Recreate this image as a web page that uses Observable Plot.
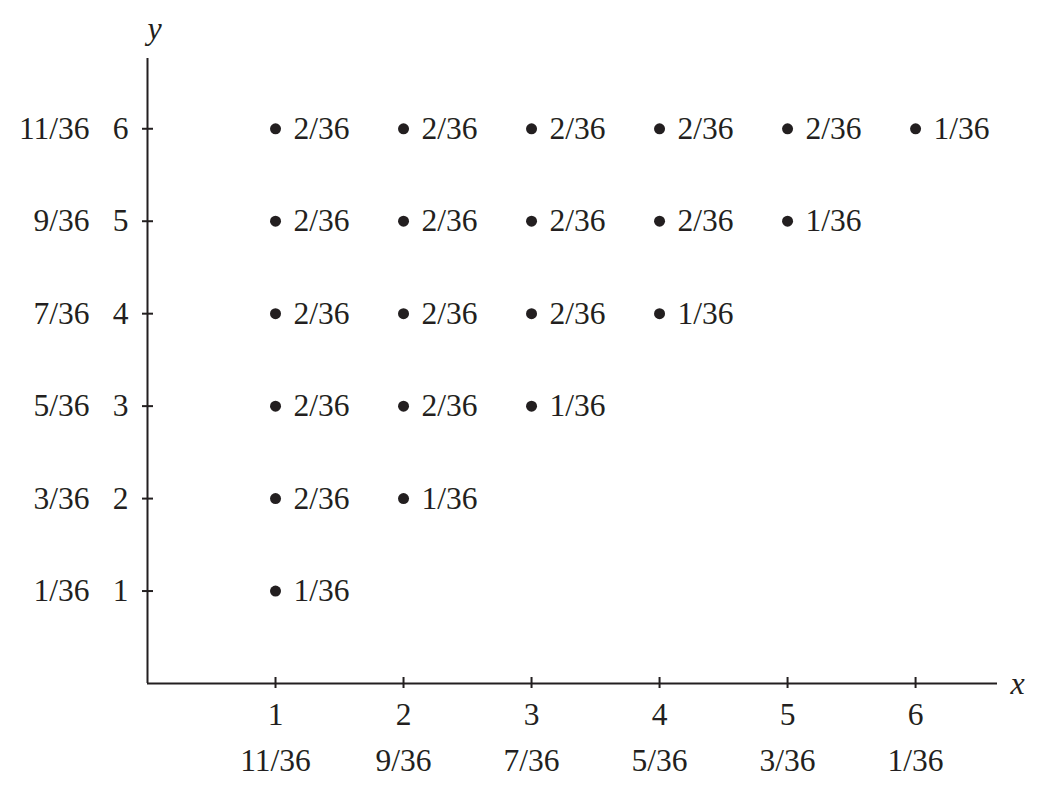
<!DOCTYPE html>
<html>
<head>
<meta charset="utf-8">
<script src="https://cdn.jsdelivr.net/npm/d3@7"></script>
<script src="https://cdn.jsdelivr.net/npm/@observablehq/plot@0.6"></script>
<style>
  html, body { margin: 0; padding: 0; background: #fff; }
</style>
</head>
<body>
<div id="chart"></div>
<script>
// Points of the joint distribution
const pointX = [1,1,1,1,1,1, 2,2,2,2,2, 3,3,3,3, 4,4,4, 5,5, 6];
const pointY = [1,2,3,4,5,6, 2,3,4,5,6, 3,4,5,6, 4,5,6, 5,6, 6];
const pointProb = [
  "1/36","2/36","2/36","2/36","2/36","2/36",
  "1/36","2/36","2/36","2/36","2/36",
  "1/36","2/36","2/36","2/36",
  "1/36","2/36","2/36",
  "1/36","2/36",
  "1/36"
];
// Axis ticks and marginal probabilities
const xTicks = [1, 2, 3, 4, 5, 6];
const xMarginal = ["11/36", "9/36", "7/36", "5/36", "3/36", "1/36"];
const yTicks = [1, 2, 3, 4, 5, 6];
const yMarginal = ["1/36", "3/36", "5/36", "7/36", "9/36", "11/36"];

const points = pointX.map((x, i) => ({x, y: pointY[i], p: pointProb[i]}));
const xTickData = xTicks.map((t, i) => ({t, m: xMarginal[i]}));
const yTickData = yTicks.map((t, i) => ({t, m: yMarginal[i]}));

const ink = "#231f20";
const fs = 31.5;

const chart = Plot.plot({
  width: 1050,
  height: 788,
  marginLeft: 147,
  marginRight: 53,
  marginTop: 58,
  marginBottom: 105,
  x: {domain: [0, 6.64], axis: null},
  y: {domain: [0, 6.76], axis: null},
  style: {fontFamily: "'Liberation Serif', 'DejaVu Serif', serif", background: "#fff", color: ink},
  marks: [
    // axis lines
    Plot.ruleY([0], {stroke: ink, strokeWidth: 2}),
    Plot.ruleX([0], {stroke: ink, strokeWidth: 2}),
    // x ticks crossing the axis
    Plot.ruleX(xTickData, {x: "t", y1: 0, y2: 0, insetTop: -6, insetBottom: -5, stroke: ink, strokeWidth: 2}),
    // y ticks crossing the axis
    Plot.ruleY(yTickData, {y: "t", x1: 0, x2: 0, insetLeft: -5, insetRight: -6, stroke: ink, strokeWidth: 2}),
    // x tick labels
    Plot.text(xTickData, {x: "t", y: 0, text: d => String(d.t), dy: 31, fontSize: fs, fill: ink}),
    Plot.text(xTickData, {x: "t", y: 0, text: "m", dy: 77, fontSize: fs, fill: ink}),
    // y tick labels
    Plot.text(yTickData, {x: 0, y: "t", text: d => String(d.t), dx: -19, textAnchor: "end", fontSize: fs, fill: ink}),
    Plot.text(yTickData, {x: 0, y: "t", text: "m", dx: -58, textAnchor: "end", fontSize: fs, fill: ink}),
    // axis titles
    Plot.text(["y"], {frameAnchor: "top-left", lineAnchor: "middle", dy: -30, text: d => d, fontSize: 32, fontStyle: "italic", fill: ink}),
    Plot.text(["x"], {frameAnchor: "bottom-right", lineAnchor: "middle", textAnchor: "middle", dx: 20, dy: 0, text: d => d, fontSize: 32, fontStyle: "italic", fill: ink}),
    // points and their probabilities
    Plot.dot(points, {x: "x", y: "y", r: 5.5, fill: ink, stroke: null}),
    Plot.text(points, {x: "x", y: "y", text: "p", dx: 18, textAnchor: "start", fontSize: fs, fill: ink})
  ]
});

document.getElementById("chart").appendChild(chart);
</script>
</body>
</html>
